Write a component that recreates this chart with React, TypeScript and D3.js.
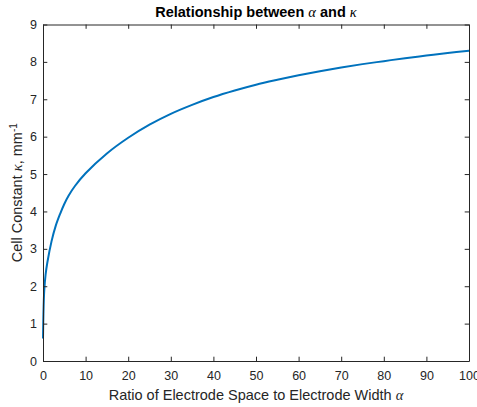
import React, { useRef, useEffect } from 'react';
import * as d3 from 'd3';

// values
const alphaValues = [0, 0.1, 0.3, 0.6, 1, 2, 3, 4, 5, 6, 7.5, 10, 15, 20, 25, 30, 35, 40, 45, 50, 55, 60, 65, 70, 75, 80, 85, 90, 95, 100];
const kappaValues = [0.6, 1.25, 1.9, 2.3, 2.62, 3.2, 3.62, 3.93, 4.2, 4.42, 4.68, 5.02, 5.55, 5.97, 6.32, 6.61, 6.85, 7.06, 7.235, 7.39, 7.52, 7.64, 7.75, 7.85, 7.94, 8.02, 8.1, 8.17, 8.24, 8.3];
const xTicks = [0, 10, 20, 30, 40, 50, 60, 70, 80, 90, 100];
const yTicks = [0, 1, 2, 3, 4, 5, 6, 7, 8, 9];

const App = () => {
    const svgRef = useRef<SVGSVGElement>(null);

    useEffect(() => {
        const w = 477;
        const h = 407;
        const m = { left: 43, right: 8, top: 24.5, bottom: 46 };
        const axisColor = '#262626';
        const sans = '"Liberation Sans", Arial, sans-serif';
        const serif = '"Liberation Serif", "Times New Roman", serif';

        const svg = d3.select(svgRef.current)
            .attr('width', w)
            .attr('height', h);
        svg.selectAll('*').remove();

        const x = d3.scaleLinear().domain([0, 100]).range([m.left, w - m.right]);
        const y = d3.scaleLinear().domain([0, 9]).range([h - m.bottom, m.top]);

        svg.append('rect')
            .attr('width', w)
            .attr('height', h)
            .attr('fill', 'white');

        // the curve
        const line = d3.line<number>()
            .x((d, i) => x(alphaValues[i]))
            .y(d => y(d))
            .curve(d3.curveCatmullRom.alpha(0.5));

        svg.append('path')
            .datum(kappaValues)
            .attr('d', line)
            .attr('fill', 'none')
            .attr('stroke', '#0072BD')
            .attr('stroke-width', 2);

        // box axes, ticks pointing inward
        const tl = 4.3;
        const bottomAxis = d3.axisBottom(x).tickValues(xTicks).tickSizeInner(-tl).tickSizeOuter(0).tickPadding(10);
        const topAxis = d3.axisTop(x).tickValues(xTicks).tickSizeInner(-tl).tickSizeOuter(0).tickFormat(() => '');
        const leftAxis = d3.axisLeft(y).tickValues(yTicks).tickSizeInner(-tl).tickSizeOuter(0).tickPadding(6);
        const rightAxis = d3.axisRight(y).tickValues(yTicks).tickSizeInner(-tl).tickSizeOuter(0).tickFormat(() => '');

        const gb = svg.append('g').attr('transform', `translate(0, ${h - m.bottom})`).call(bottomAxis);
        const gt = svg.append('g').attr('transform', `translate(0, ${m.top})`).call(topAxis);
        const gl = svg.append('g').attr('transform', `translate(${m.left}, 0)`).call(leftAxis);
        const gr = svg.append('g').attr('transform', `translate(${w - m.right}, 0)`).call(rightAxis);

        [gb, gt, gl, gr].forEach(g => {
            g.selectAll('path, line').attr('stroke', axisColor);
            g.selectAll('text')
                .attr('fill', axisColor)
                .style('font-family', sans)
                .style('font-size', '12.5px');
        });

        // title
        const title = svg.append('text')
            .attr('x', (m.left + w - m.right) / 2)
            .attr('y', 17)
            .attr('text-anchor', 'middle')
            .attr('fill', 'black')
            .style('font-family', sans)
            .style('font-size', '14.5px')
            .style('font-weight', 'bold');
        title.append('tspan').text('Relationship between ');
        title.append('tspan').text('α').style('font-family', serif).style('font-style', 'italic').style('font-weight', 'normal');
        title.append('tspan').text(' and ');
        title.append('tspan').text('κ').style('font-family', serif).style('font-style', 'italic').style('font-weight', 'normal');

        // x label
        const xl = svg.append('text')
            .attr('x', (m.left + w - m.right) / 2)
            .attr('y', 400)
            .attr('text-anchor', 'middle')
            .attr('fill', axisColor)
            .style('font-family', sans)
            .style('font-size', '14.5px');
        xl.append('tspan').text('Ratio of Electrode Space to Electrode Width ');
        xl.append('tspan').text('α').style('font-family', serif).style('font-style', 'italic');

        // y label
        const yl = svg.append('text')
            .attr('transform', `translate(22, ${(m.top + h - m.bottom) / 2}) rotate(-90)`)
            .attr('text-anchor', 'middle')
            .attr('fill', axisColor)
            .style('font-family', sans)
            .style('font-size', '14.5px');
        yl.append('tspan').text('Cell Constant ');
        yl.append('tspan').text('κ').style('font-family', serif).style('font-style', 'italic');
        yl.append('tspan').text(', mm');
        yl.append('tspan').text('-1').attr('dy', -5).style('font-size', '10px');
    }, []);

    return (
        <div style={{ position: 'absolute', left: 0, top: 0 }}>
            <svg ref={svgRef} style={{ display: 'block' }}></svg>
        </div>
    );
};

export default App;
